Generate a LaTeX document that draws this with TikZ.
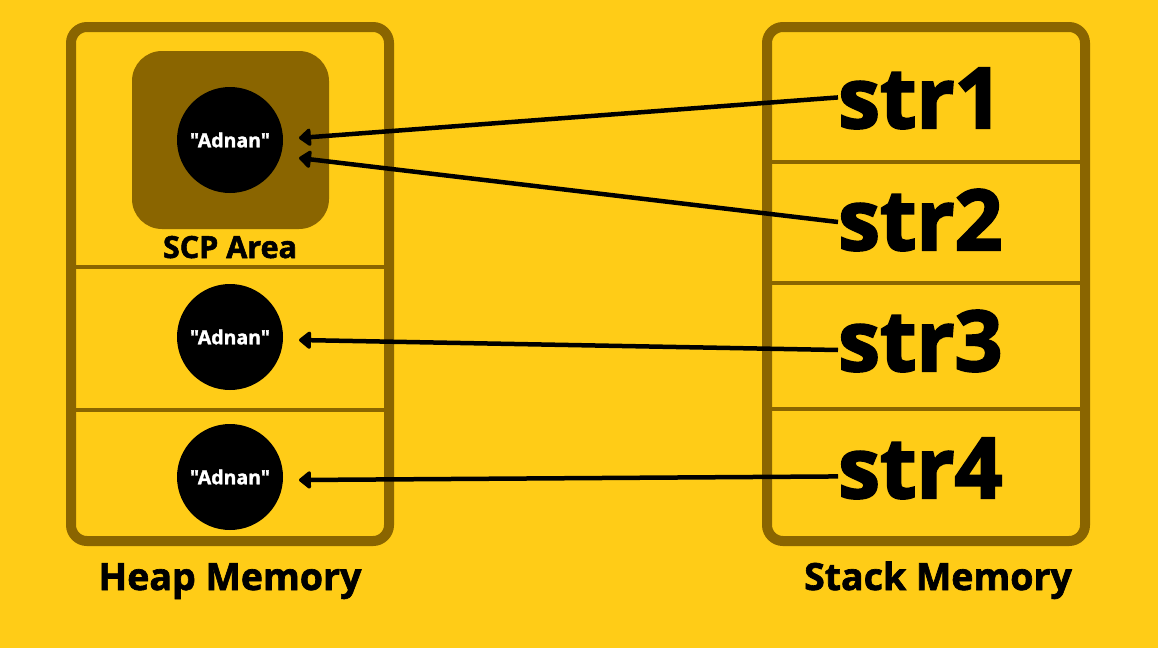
\documentclass[tikz,border=0pt]{standalone}
\usepackage{fontspec}
\setmainfont{Open Sans}[BoldFeatures={FakeBold=1.8}]
\newfontfamily\plainopen{Open Sans}[BoldFeatures={FakeBold=1.5}]
\newfontfamily\heavyopen{Open Sans}[BoldFeatures={FakeBold=2.5}]
\usetikzlibrary{arrows.meta}
\definecolor{bgyellow}{HTML}{FFCC17}
\definecolor{brown}{HTML}{8A6500}
\tikzset{
  frame/.style={draw=brown, line width=10pt, rounded corners=16pt},
  divider/.style={draw=brown, line width=4.5pt},
  strcircle/.style={circle, fill=black, minimum size=106pt, inner sep=0pt,
    text=white, font=\plainopen\fontsize{19.5}{22}\selectfont\bfseries},
  stacktext/.style={anchor=base west, inner sep=0pt,
    font=\heavyopen\fontsize{84}{86}\selectfont\bfseries},
  label/.style={inner sep=0pt, font=\fontsize{37.5}{40}\selectfont\bfseries},
  ptr/.style={draw=black, line width=4.5pt,
    -{Triangle[length=13pt,width=20pt,round]}}
}
\begin{document}
\begin{tikzpicture}[x=1pt,y=-1pt]
\fill[bgyellow] (0,0) rectangle (1158,648);
\useasboundingbox (0,0) rectangle (1158,648);
% heap
\draw[divider] (71,267) -- (389,267);
\draw[divider] (71,410) -- (389,410);
\draw[frame] (71,27) rectangle (389,541);
\fill[brown, rounded corners=30pt] (132,51) rectangle (329,229);
% stack
\draw[divider] (767,162) -- (1085,162);
\draw[divider] (767,283) -- (1085,283);
\draw[divider] (767,409) -- (1085,409);
\draw[frame] (767,27) rectangle (1085,541);
% circles
\node[strcircle] (c1) at (230,140) {"Adnan"};
\node[strcircle] (c2) at (230,337) {"Adnan"};
\node[strcircle] (c3) at (230,477) {"Adnan"};
\node[inner sep=0pt, anchor=base, font=\fontsize{30.5}{32}\selectfont\bfseries] (scp) at (230,258) {SCP Area};
% stack texts
\node[stacktext] (s1) at (838,128) {str1};
\node[stacktext] (s2) at (838,250) {str2};
\node[stacktext] (s3) at (838,371) {str3};
\node[stacktext] (s4) at (838,498) {str4};
% labels
\node[label, anchor=base] (heap) at (230,590) {Heap Memory};
\node[label, anchor=base] (stack) at (938,590) {Stack Memory};
% pointer targets
\coordinate (t1) at (299,138);
\coordinate (t2) at (299,158);
\coordinate (t3) at (299,340);
\coordinate (t4) at (299,480);
\draw[ptr] ([yshift=1pt]s1.west) -- (t1);
\draw[ptr] ([yshift=-2pt]s2.west) -- (t2);
\draw[ptr] ([yshift=-9pt]s3.west) -- (t3);
\draw[ptr] ([yshift=-8pt]s4.west) -- (t4);
\end{tikzpicture}
\end{document}
